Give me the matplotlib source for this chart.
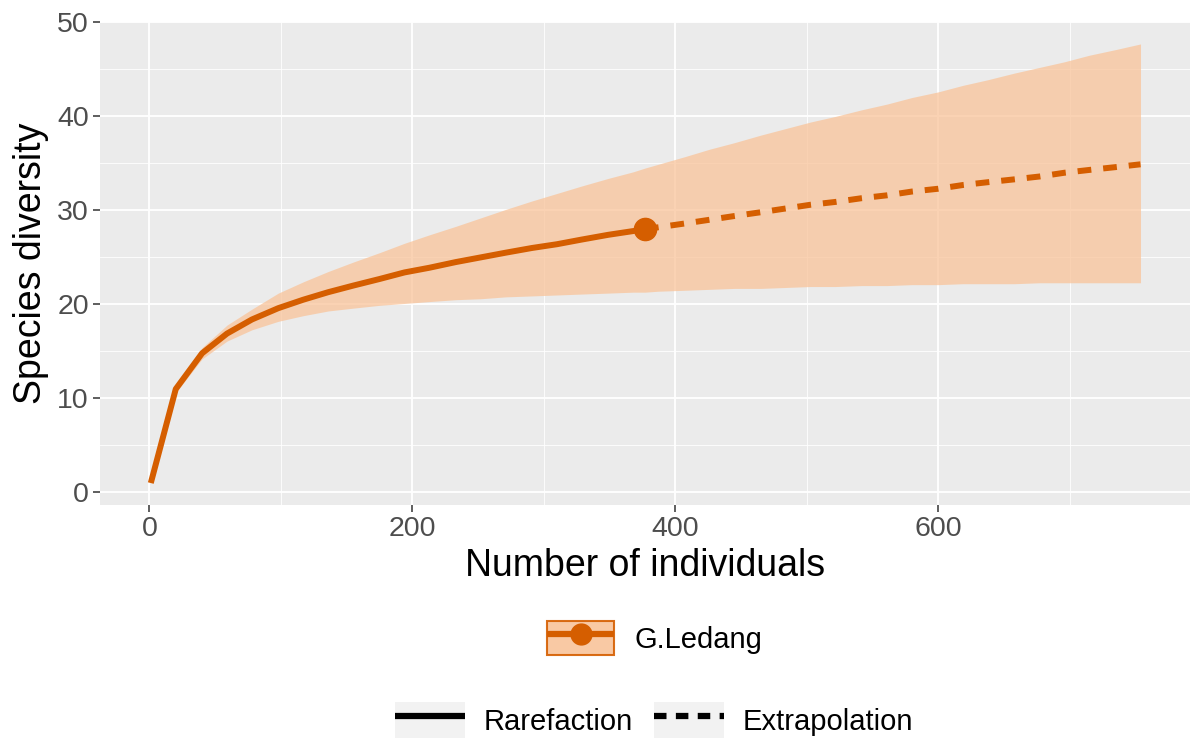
import matplotlib
matplotlib.use("Agg")
import matplotlib.pyplot as plt
from matplotlib.lines import Line2D
from matplotlib.patches import Patch
import numpy as np

plt.rcParams['font.family'] = ['Liberation Sans', 'DejaVu Sans']

# ---- data ----
site = "G.Ledang"
n_obs = 377
s_obs = 28.0

rare_m = [1, 20, 40, 59, 78, 98, 117, 136, 155, 175, 194, 213, 233, 252, 271,
          291, 310, 329, 349, 368, 377]
rare_s = [1.0, 11.0, 14.8, 16.9, 18.4, 19.6, 20.5, 21.3, 22.0, 22.7, 23.4, 23.9,
          24.5, 25.0, 25.5, 26.0, 26.4, 26.9, 27.4, 27.8, 28.0]
rare_lcl = [1.0, 10.6, 14.2, 16.1, 17.3, 18.2, 18.8, 19.3, 19.6, 19.9, 20.1, 20.3,
            20.5, 20.6, 20.8, 20.9, 21.0, 21.1, 21.2, 21.3, 21.3]
rare_ucl = [1.0, 11.4, 15.4, 17.8, 19.5, 21.2, 22.4, 23.5, 24.5, 25.5, 26.5, 27.4,
            28.3, 29.2, 30.1, 31.0, 31.8, 32.6, 33.4, 34.1, 34.5]

extra_m = [377, 387, 407, 426, 445, 465, 484, 503, 522, 542, 561, 580, 600, 619,
           638, 658, 677, 696, 715, 735, 754]
extra_s = [28.0, 28.2, 28.6, 29.0, 29.4, 29.8, 30.2, 30.6, 30.9, 31.3, 31.6, 32.0,
           32.3, 32.7, 33.0, 33.3, 33.6, 34.0, 34.3, 34.6, 34.9]
extra_lcl = [21.3, 21.4, 21.5, 21.6, 21.7, 21.7, 21.8, 21.9, 21.9, 22.0, 22.0, 22.1,
             22.1, 22.2, 22.2, 22.2, 22.3, 22.3, 22.3, 22.3, 22.3]
extra_ucl = [34.5, 34.9, 35.7, 36.5, 37.2, 38.0, 38.7, 39.4, 40.0, 40.7, 41.3, 42.0,
             42.6, 43.3, 43.9, 44.6, 45.2, 45.8, 46.5, 47.1, 47.7]

x_ticks = [0, 200, 400, 600]
y_ticks = [0, 10, 20, 30, 40, 50]
method_labels = ["Rarefaction", "Extrapolation"]

# ---- style ----
line_col = "#D55E00"
band_col = "#F9C49A"
bg = "#EBEBEB"
lw_main = 4.3

fig = plt.figure(figsize=(11.9, 7.4), dpi=100)
ax = fig.add_axes([100/1190, 1 - 505/740, 1 - 100/1190, (505 - 22)/740])
ax.set_facecolor(bg)
for s in ax.spines.values():
    s.set_visible(False)

band_m = rare_m + extra_m[1:]
band_l = rare_lcl + extra_lcl[1:]
band_u = rare_ucl + extra_ucl[1:]
ax.fill_between(band_m, band_l, band_u, color=band_col, alpha=0.75, lw=0, zorder=2)

ax.plot(rare_m, rare_s, color=line_col, lw=lw_main, solid_capstyle='butt',
        solid_joinstyle='round', zorder=3)
ax.plot(extra_m, extra_s, color=line_col, lw=lw_main, linestyle=(0, (2.3, 2.0)),
        dash_capstyle='butt', zorder=3)
ax.plot([n_obs], [s_obs], 'o', color=line_col, markersize=16, zorder=4)

# axes limits (ggplot 5% expansion)
xr = max(band_m) - min(band_m)
ax.set_xlim(min(band_m) - 0.05 * xr - 1, max(band_m) + 0.05 * xr)
yr = max(band_u) - min(band_l)
ax.set_ylim(min(band_l) - 0.05 * yr, max(band_u) + 0.05 * yr)

ax.set_xticks(x_ticks)
ax.set_yticks(y_ticks)
ax.set_xticks([100, 300, 500, 700], minor=True)
ax.set_yticks([5, 15, 25, 35, 45], minor=True)
ax.grid(which='major', color='white', lw=1.3, zorder=0)
ax.grid(which='minor', color='white', lw=0.6, zorder=0)
ax.set_axisbelow(True)
ax.tick_params(which='major', length=5, width=1.1, color='#333333',
               labelsize=20.5, labelcolor='#4D4D4D', pad=3)
ax.tick_params(which='minor', length=0)

ax.set_xlabel("Number of individuals", fontsize=27, labelpad=4)
ax.set_ylabel("Species diversity", fontsize=27, labelpad=6)

# ---- legends ----
site_handle = (Patch(facecolor=band_col, edgecolor=line_col, lw=1.5, alpha=0.9),
               Line2D([], [], color=line_col, lw=4.5, marker='o', markersize=15,
                      solid_capstyle='butt'))
leg1 = fig.legend([site_handle], [site], loc='center',
                  bbox_to_anchor=(655/1190, 1 - 638/740), frameon=False,
                  fontsize=21, handlelength=2.3, handleheight=1.45,
                  handletextpad=0.7)

key_bg = Patch(facecolor='#F2F2F2', edgecolor='none')
h_rare = (key_bg, Line2D([], [], color='black', lw=4.5, solid_capstyle='butt'))
h_extra = (key_bg, Line2D([], [], color='black', lw=4.5, linestyle=(0, (2.0, 1.5)),
                          dash_capstyle='butt'))
leg2 = fig.legend([h_rare, h_extra], method_labels, loc='center',
                  bbox_to_anchor=(654/1190, 1 - 720/740), frameon=False, ncol=2,
                  fontsize=21, handlelength=2.4, handleheight=1.5,
                  handletextpad=0.65, columnspacing=0.7)

fig.savefig("out.png", dpi=100, facecolor='white')
